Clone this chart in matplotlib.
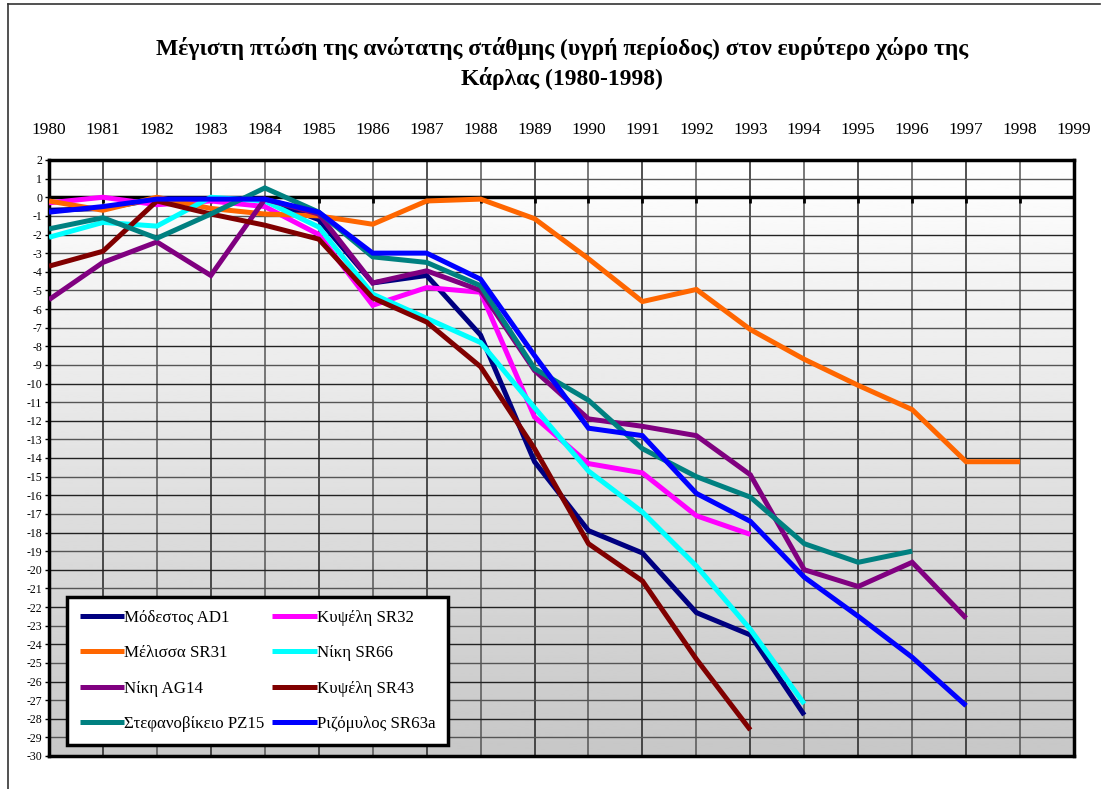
import numpy as np
import matplotlib.pyplot as plt
from matplotlib.lines import Line2D

years = list(range(1980, 2000))

# max drop of upper water level (wet period), one list per well, 1980 onwards
modestos_ad1 = [-0.7, -0.6, -0.1, -0.1, -0.1, -1.2, -4.6, -4.2, -7.4, -14.2, -17.9, -19.1, -22.3, -23.5, -27.8]
kypseli_sr32 = [-0.3, 0.0, -0.4, -0.2, -0.5, -2.0, -5.8, -4.85, -5.1, -11.8, -14.3, -14.8, -17.1, -18.1]
melissa_sr31 = [-0.2, -0.7, 0.0, -0.6, -0.9, -1.0, -1.45, -0.2, -0.1, -1.15, -3.3, -5.6, -4.95, -7.1, -8.7, -10.1, -11.4, -14.2, -14.2]
niki_sr66 = [-2.15, -1.35, -1.55, 0.0, -0.2, -1.6, -5.2, -6.5, -7.8, -11.3, -14.7, -16.9, -19.8, -23.2, -27.2]
niki_ag14 = [-5.5, -3.5, -2.4, -4.2, -0.1, -0.9, -4.6, -3.95, -5.0, -9.3, -11.9, -12.3, -12.8, -14.9, -20.0, -20.9, -19.6, -22.6]
kypseli_sr43 = [-3.7, -2.9, -0.2, -0.9, -1.5, -2.25, -5.4, -6.7, -9.1, -13.5, -18.6, -20.6, -24.8, -28.6]
stefanovikeio_pz15 = [-1.7, -1.1, -2.2, -0.9, 0.5, -0.8, -3.2, -3.5, -4.75, -9.2, -10.9, -13.5, -15.0, -16.1, -18.6, -19.6, -19.0]
rizomylos_sr63a = [-0.8, -0.5, -0.1, -0.1, -0.1, -0.8, -3.0, -3.0, -4.4, -8.5, -12.4, -12.8, -15.9, -17.4, -20.4, -22.5, -24.7, -27.3]

series = [
    ("Μόδεστος AD1", modestos_ad1, "#000080"),
    ("Κυψέλη SR32", kypseli_sr32, "#ff00ff"),
    ("Μέλισσα SR31", melissa_sr31, "#ff6600"),
    ("Νίκη SR66", niki_sr66, "#00ffff"),
    ("Νίκη AG14", niki_ag14, "#800080"),
    ("Κυψέλη SR43", kypseli_sr43, "#800000"),
    ("Στεφανοβίκειο PZ15", stefanovikeio_pz15, "#008080"),
    ("Ριζόμυλος SR63a", rizomylos_sr63a, "#0000ff"),
]

plt.rcParams['font.family'] = ['Liberation Serif', 'DejaVu Serif']

fig = plt.figure(figsize=(11.03, 7.89), dpi=100)
ax = fig.add_axes([49 / 1103, 1 - 756 / 789, (1074 - 49) / 1103, (756 - 160) / 789])

# gradient background, white at top to grey at bottom
grad = np.linspace(1.0, 0.78, 256).reshape(-1, 1)
ax.imshow(grad, cmap='gray', vmin=0, vmax=1, aspect='auto', interpolation='bilinear',
          extent=[1980, 1999, -30, 2], origin='upper', zorder=0)

ax.set_xlim(1980, 1999)
ax.set_ylim(-30, 2)

ax.set_xticks(years)
ax.set_xticklabels([str(y) for y in years], fontsize=12.5)
ax.xaxis.tick_top()
ax.tick_params(axis='x', length=0, pad=16)

ax.set_yticks(range(-30, 3))
ax.set_yticklabels([str(v) for v in range(-30, 3)], fontsize=8.5)
ax.tick_params(axis='y', length=3, width=1, pad=2)

for i, y in enumerate(years):
    ax.axvline(y, color='#555555' if i % 2 == 0 else '#222222', lw=1.1, zorder=1)
for v in range(-30, 3):
    ax.axhline(v, color='#222222' if v % 2 == 0 else '#555555', lw=1.0, zorder=1)

# category axis crossing at zero
ax.axhline(0, color='black', lw=2.5, zorder=2)
ax.vlines(years, -0.3, 0, color='black', lw=2, zorder=2)

for spine in ax.spines.values():
    spine.set_linewidth(2.5)
    spine.set_color('black')

handles = {}
for name, vals, col in series:
    ln, = ax.plot(years[:len(vals)], vals, color=col, lw=3.6, zorder=3,
                  solid_joinstyle='miter', solid_capstyle='butt')
    handles[name] = ln

order = ["Μόδεστος AD1", "Μέλισσα SR31", "Νίκη AG14", "Στεφανοβίκειο PZ15",
         "Κυψέλη SR32", "Νίκη SR66", "Κυψέλη SR43", "Ριζόμυλος SR63a"]
leg = ax.legend([handles[n] for n in order], order, ncol=2, loc='lower left',
                bbox_to_anchor=(18 / 1025, 11 / 596), borderaxespad=0, fontsize=12.2,
                frameon=True, fancybox=False, framealpha=1, edgecolor='black',
                handlelength=2.6, handletextpad=0.0, columnspacing=0.5,
                labelspacing=1.15, borderpad=0.75)
leg.get_frame().set_linewidth(2.5)
leg.set_zorder(5)

fig.text(562 / 1103, 1 - 48 / 789, "Μέγιστη πτώση της ανώτατης στάθμης (υγρή περίοδος) στον ευρύτερο χώρο της",
         ha='center', va='center', fontsize=17, fontweight='bold')
fig.text(562 / 1103, 1 - 79 / 789, "Κάρλας (1980-1998)",
         ha='center', va='center', fontsize=17, fontweight='bold')

# outer chart frame (top and left edges visible)
fig.add_artist(Line2D([8 / 1103, 8 / 1103], [0, 1 - 4 / 789], color='#333333', lw=1.2))
fig.add_artist(Line2D([8 / 1103, 1100 / 1103], [1 - 4 / 789, 1 - 4 / 789], color='#333333', lw=1.2))

plt.savefig('out.png', dpi=100)
